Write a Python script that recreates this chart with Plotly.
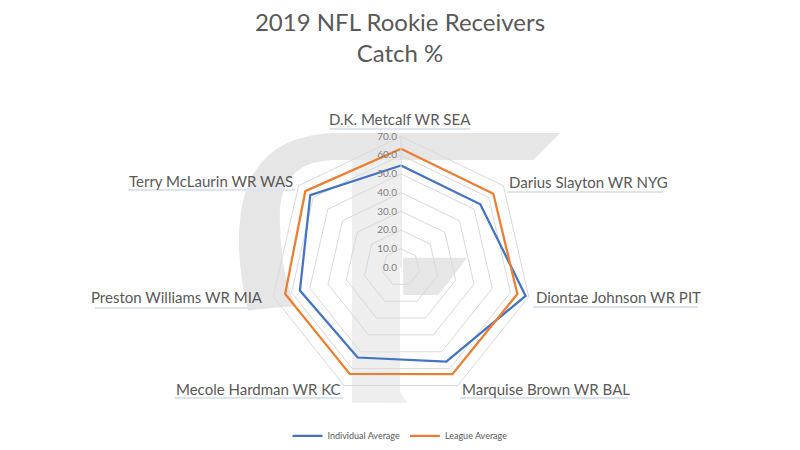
import plotly.graph_objects as go

# 2019 NFL rookie receivers - catch %
players = ["D.K. Metcalf WR SEA", "Darius Slayton WR NYG", "Diontae Johnson WR PIT",
           "Marquise Brown WR BAL", "Mecole Hardman WR KC", "Preston Williams WR MIA",
           "Terry McLaurin WR WAS"]
individual_avg = [54.5, 54.2, 68.3, 55.8, 53.4, 55.4, 62.0]
league_avg = [63.4, 63.1, 63.8, 63.3, 63.1, 63.5, 65.4]

FONT = "Lato"
BLUE = "#4472C4"
ORANGE = "#ED7D31"
GRID = "#D9D9D9"

fig = go.Figure()

# close the loops
fig.add_trace(go.Scatterpolar(r=individual_avg + individual_avg[:1], theta=players + players[:1],
                              mode="lines", name="Individual Average",
                              line=dict(color=BLUE, width=2.25)))
fig.add_trace(go.Scatterpolar(r=league_avg + league_avg[:1], theta=players + players[:1],
                              mode="lines", name="League Average",
                              line=dict(color=ORANGE, width=2.25)))

# faint background logo watermark
wm = "#E6E6E6"
shapes = [
    dict(type="path", xref="paper", yref="paper", layer="below", line_width=0, fillcolor=wm,
         path="M 0.415,0.722 L 0.690,0.722 L 0.657,0.662 L 0.410,0.662 "
              "Q 0.335,0.662 0.340,0.518 Q 0.342,0.398 0.360,0.338 "
              "L 0.300,0.328 Q 0.285,0.438 0.290,0.528 Q 0.300,0.722 0.415,0.722 Z"),
    dict(type="rect", xref="paper", yref="paper", layer="below", line_width=0, fillcolor="#EEEEEE",
         x0=0.430, x1=0.490, y0=0.123, y1=0.662),
    dict(type="path", xref="paper", yref="paper", layer="below", line_width=0, fillcolor=wm,
         path="M 0.494,0.445 L 0.574,0.445 L 0.538,0.362 L 0.494,0.362 Z"),
    dict(type="path", xref="paper", yref="paper", layer="below", line_width=0, fillcolor="#EEEEEE",
         path="M 0.431,0.225 L 0.460,0.225 L 0.499,0.123 L 0.470,0.123 Z"),
]

# category label placement (x, y, anchor) and the soft shadow line under each label
label_pos = [(0.49, 0.7533, "center"), (0.62375, 0.6133, "left"), (0.6575, 0.3578, "left"),
             (0.565, 0.1533, "left"), (0.41875, 0.1533, "right"), (0.32125, 0.3578, "right"),
             (0.35875, 0.6156, "right")]
label_shadows = [(0.4025, 0.5775, 0.7311), (0.62375, 0.81875, 0.5911), (0.65625, 0.8625, 0.3356),
                 (0.565, 0.775, 0.1333), (0.20875, 0.41875, 0.1333), (0.10875, 0.32125, 0.3333),
                 (0.15, 0.35875, 0.5956)]
for x0, x1, y in label_shadows:
    shapes.append(dict(type="line", xref="paper", yref="paper", layer="below",
                       x0=x0, x1=x1, y0=y, y1=y, line=dict(color="#DCE4F2", width=2)))

annotations = []
for name, (x, y, anchor) in zip(players, label_pos):
    annotations.append(dict(text=name, x=x, y=y, xref="paper", yref="paper",
                            xanchor=anchor, yanchor="middle", showarrow=False,
                            font=dict(family=FONT, size=15, color="#595959")))

fig.update_layout(
    width=800, height=450, autosize=False,
    margin=dict(l=0, r=0, t=0, b=0),
    paper_bgcolor="white",
    font=dict(family=FONT, color="#595959"),
    title=dict(text="2019 NFL Rookie Receivers<br>Catch %", x=0.49, xanchor="center",
               y=0.95, yanchor="middle", yref="container",
               font=dict(family=FONT, size=24, color="#595959")),
    polar=dict(
        domain=dict(x=[0.3275, 0.655], y=[0.1323, 0.7145]),
        bgcolor="rgba(0,0,0,0)",
        gridshape="linear",
        angularaxis=dict(rotation=90, direction="clockwise", showgrid=False,
                         showline=True, linecolor=GRID, linewidth=1, ticks="",
                         showticklabels=False),
        radialaxis=dict(range=[0, 70], dtick=10, tickformat=".1f", angle=90, tickangle=90,
                        side="counterclockwise", showline=True, linecolor=GRID,
                        gridcolor=GRID, ticks="",
                        tickfont=dict(family=FONT, size=10, color="#7F7F7F")),
    ),
    showlegend=True,
    legend=dict(orientation="h", x=0.49, xanchor="center", y=0.049, yanchor="middle",
                font=dict(family=FONT, size=9, color="#595959"), bgcolor="rgba(0,0,0,0)"),
    shapes=shapes,
    annotations=annotations,
)

fig.write_html("out.html")
